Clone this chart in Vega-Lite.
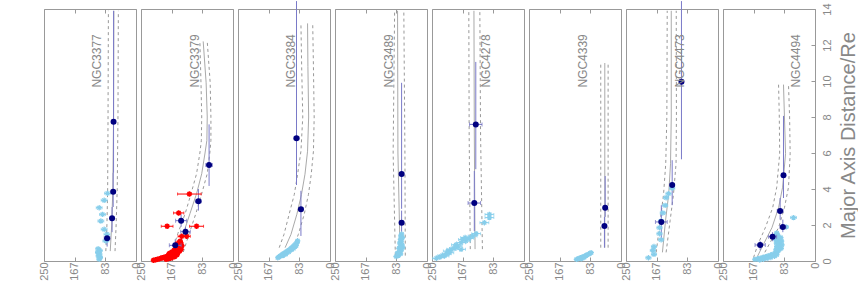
{
"$schema":"https://vega.github.io/schema/vega-lite/v6.json",
"padding":{"left":38,"top":0,"right":0,"bottom":0},
"data":{"values":[
{"g":"NGC3377","t":"m","r":0.55,"v":70,"lo":57,"hi":82},{"g":"NGC3377","t":"m","r":2,"v":66,"lo":54,"hi":79},{"g":"NGC3377","t":"m","r":4,"v":63,"lo":51,"hi":77},{"g":"NGC3377","t":"m","r":8,"v":61,"lo":49,"hi":76},{"g":"NGC3377","t":"m","r":13.9,"v":60,"lo":48,"hi":75},
{"g":"NGC3379","t":"m","r":0.5,"v":152,"lo":135,"hi":166},{"g":"NGC3379","t":"m","r":1.52,"v":135,"lo":119,"hi":150},{"g":"NGC3379","t":"m","r":2.63,"v":117,"lo":101,"hi":130},{"g":"NGC3379","t":"m","r":3.74,"v":99,"lo":85,"hi":114},{"g":"NGC3379","t":"m","r":4.85,"v":85,"lo":70,"hi":99},{"g":"NGC3379","t":"m","r":6.0,"v":76,"lo":63,"hi":90},{"g":"NGC3379","t":"m","r":6.7,"v":71,"lo":60,"hi":86},{"g":"NGC3379","t":"m","r":8.0,"v":70,"lo":60,"hi":85},{"g":"NGC3379","t":"m","r":9.9,"v":73,"lo":62,"hi":87},{"g":"NGC3379","t":"m","r":12.2,"v":81,"lo":70,"hi":90},
{"g":"NGC3384","t":"m","r":0.74,"v":122,"lo":100,"hi":138},{"g":"NGC3384","t":"m","r":1.48,"v":106,"lo":86,"hi":125},{"g":"NGC3384","t":"m","r":2.6,"v":90,"lo":70,"hi":111},{"g":"NGC3384","t":"m","r":3.7,"v":77.5,"lo":58.5,"hi":97},{"g":"NGC3384","t":"m","r":4.82,"v":68,"lo":51,"hi":88},{"g":"NGC3384","t":"m","r":6.1,"v":61,"lo":45,"hi":79},{"g":"NGC3384","t":"m","r":8.0,"v":58,"lo":43,"hi":74},{"g":"NGC3384","t":"m","r":10.8,"v":60,"lo":45,"hi":77},{"g":"NGC3384","t":"m","r":13.2,"v":61,"lo":47,"hi":79},
{"g":"NGC3489","t":"m","r":0.3,"v":73,"lo":59,"hi":86},{"g":"NGC3489","t":"m","r":6,"v":79,"lo":60,"hi":92},{"g":"NGC3489","t":"m","r":13.9,"v":80,"lo":63,"hi":88},
{"g":"NGC4278","t":"m","r":0.66,"v":133,"lo":113,"hi":146},{"g":"NGC4278","t":"m","r":7,"v":135,"lo":118,"hi":149},{"g":"NGC4278","t":"m","r":13.9,"v":136,"lo":120,"hi":150},
{"g":"NGC4339","t":"m","r":0.74,"v":44,"lo":35,"hi":55},{"g":"NGC4339","t":"m","r":11,"v":44,"lo":35,"hi":55},
{"g":"NGC4473","t":"m","r":0.48,"v":151,"lo":141,"hi":168},{"g":"NGC4473","t":"m","r":2.26,"v":142.5,"lo":130,"hi":157},{"g":"NGC4473","t":"m","r":3.7,"v":134,"lo":121,"hi":148},{"g":"NGC4473","t":"m","r":5.4,"v":129,"lo":114,"hi":142},{"g":"NGC4473","t":"m","r":8,"v":127,"lo":113,"hi":139},{"g":"NGC4473","t":"m","r":13.9,"v":127,"lo":113.5,"hi":138},
{"g":"NGC4494","t":"m","r":0.19,"v":158,"lo":144,"hi":167},{"g":"NGC4494","t":"m","r":0.93,"v":140,"lo":124.5,"hi":155},{"g":"NGC4494","t":"m","r":1.85,"v":117,"lo":99,"hi":135},{"g":"NGC4494","t":"m","r":2.96,"v":99,"lo":83,"hi":115},{"g":"NGC4494","t":"m","r":4.1,"v":88,"lo":72,"hi":104},{"g":"NGC4494","t":"m","r":5.96,"v":80,"lo":67.5,"hi":96},{"g":"NGC4494","t":"m","r":8.0,"v":83,"lo":69,"hi":97},{"g":"NGC4494","t":"m","r":9.8,"v":85.6,"lo":72,"hi":99},

{"g":"NGC3377","t":"n","v":61,"e":5,"r":7.74,"rlo":4.9,"rhi":13.9},{"g":"NGC3377","t":"n","v":62,"e":5,"r":3.85,"rlo":3.0,"rhi":4.9},{"g":"NGC3377","t":"n","v":65,"e":5,"r":2.37,"rlo":1.6,"rhi":3.0},{"g":"NGC3377","t":"n","v":78.5,"e":8,"r":1.26,"rlo":0.8,"rhi":1.6},
{"g":"NGC3379","t":"n","v":65,"e":9,"r":5.33,"rlo":4.17,"rhi":7.59},{"g":"NGC3379","t":"n","v":94,"e":8,"r":3.32,"rlo":2.8,"rhi":4.0},{"g":"NGC3379","t":"n","v":141,"e":15,"r":2.24,"rlo":1.9,"rhi":2.6},{"g":"NGC3379","t":"n","v":129,"e":13,"r":1.63,"rlo":1.3,"rhi":1.9},{"g":"NGC3379","t":"n","v":157,"e":16,"r":0.87,"rlo":0.6,"rhi":1.2},
{"g":"NGC3384","t":"n","v":91,"e":7,"r":6.82,"rlo":4.22,"rhi":14.44},{"g":"NGC3384","t":"n","v":79,"e":6,"r":2.87,"rlo":1.39,"rhi":3.9},
{"g":"NGC3489","t":"n","v":69,"e":6,"r":4.83,"rlo":2.9,"rhi":9.9},{"g":"NGC3489","t":"n","v":69,"e":6,"r":2.13,"rlo":1.5,"rhi":2.8},
{"g":"NGC4278","t":"n","v":131,"e":17,"r":7.59,"rlo":5.1,"rhi":11.06},{"g":"NGC4278","t":"n","v":135,"e":17,"r":3.22,"rlo":1.67,"rhi":5.0},
{"g":"NGC4339","t":"n","v":43,"e":4,"r":2.96,"rlo":2.45,"rhi":4.72},{"g":"NGC4339","t":"n","v":45,"e":4,"r":1.95,"rlo":0.74,"rhi":2.45},
{"g":"NGC4473","t":"n","v":99.3,"e":5,"r":9.96,"rlo":5.65,"rhi":14.44},{"g":"NGC4473","t":"n","v":124.5,"e":5,"r":4.22,"rlo":3.1,"rhi":5.6},{"g":"NGC4473","t":"n","v":154,"e":16,"r":2.17,"rlo":1.2,"rhi":3.1},
{"g":"NGC4494","t":"n","v":85.6,"e":5,"r":4.76,"rlo":3.5,"rhi":8.06},{"g":"NGC4494","t":"n","v":94.7,"e":8,"r":2.78,"rlo":2.3,"rhi":3.5},{"g":"NGC4494","t":"n","v":87.4,"e":8,"r":1.89,"rlo":1.6,"rhi":2.3},{"g":"NGC4494","t":"n","v":115.3,"e":11,"r":1.35,"rlo":1.1,"rhi":1.6},{"g":"NGC4494","t":"n","v":149,"e":14,"r":0.89,"rlo":0.6,"rhi":1.1},

{"g":"NGC3377","t":"l","v":107,"r":12.6},{"g":"NGC3379","t":"l","v":102,"r":12.6},{"g":"NGC3384","t":"l","v":106,"r":12.6},{"g":"NGC3489","t":"l","v":102,"r":12.6},{"g":"NGC4278","t":"l","v":104,"r":12.6},{"g":"NGC4339","t":"l","v":104,"r":12.6},{"g":"NGC4473","t":"l","v":104,"r":12.6},{"g":"NGC4494","t":"l","v":52,"r":12.6},

{"g":"NGC3377","t":"b","v":100,"e":6,"r":0.1},{"g":"NGC3377","t":"b","v":97,"e":6,"r":0.2},{"g":"NGC3377","t":"b","v":102,"e":6,"r":0.28},{"g":"NGC3377","t":"b","v":99,"e":6,"r":0.38},{"g":"NGC3377","t":"b","v":104,"e":6,"r":0.48},{"g":"NGC3377","t":"b","v":98,"e":6,"r":0.58},{"g":"NGC3377","t":"b","v":103,"e":6,"r":0.68},{"g":"NGC3377","t":"b","v":82,"e":8,"r":1.11},{"g":"NGC3377","t":"b","v":79,"e":8,"r":1.48},{"g":"NGC3377","t":"b","v":86.5,"e":8,"r":1.76},{"g":"NGC3377","t":"b","v":95.5,"e":8,"r":2.22},{"g":"NGC3377","t":"b","v":91,"e":8,"r":2.59},{"g":"NGC3377","t":"b","v":100,"e":8,"r":2.96},{"g":"NGC3377","t":"b","v":86.5,"e":8,"r":3.37},{"g":"NGC3377","t":"b","v":77.4,"e":8,"r":3.76},
{"g":"NGC3384","t":"b","v":142,"e":4,"r":0.18},{"g":"NGC3384","t":"b","v":139,"e":4,"r":0.22},{"g":"NGC3384","t":"b","v":136,"e":4,"r":0.27},{"g":"NGC3384","t":"b","v":133,"e":4,"r":0.3},{"g":"NGC3384","t":"b","v":130,"e":4,"r":0.35},{"g":"NGC3384","t":"b","v":127,"e":4,"r":0.4},{"g":"NGC3384","t":"b","v":124,"e":4,"r":0.43},{"g":"NGC3384","t":"b","v":121,"e":4,"r":0.47},{"g":"NGC3384","t":"b","v":118,"e":4,"r":0.52},{"g":"NGC3384","t":"b","v":115,"e":4,"r":0.56},{"g":"NGC3384","t":"b","v":112,"e":4,"r":0.6},{"g":"NGC3384","t":"b","v":109,"e":4,"r":0.64},{"g":"NGC3384","t":"b","v":106,"e":4,"r":0.7},{"g":"NGC3384","t":"b","v":103,"e":4,"r":0.75},{"g":"NGC3384","t":"b","v":100,"e":4,"r":0.8},{"g":"NGC3384","t":"b","v":97,"e":4,"r":0.86},{"g":"NGC3384","t":"b","v":94,"e":4,"r":0.92},{"g":"NGC3384","t":"b","v":91,"e":4,"r":0.98},{"g":"NGC3384","t":"b","v":89,"e":4,"r":1.05},{"g":"NGC3384","t":"b","v":88,"e":4,"r":1.12},{"g":"NGC3384","t":"b","v":128,"e":4,"r":0.3},{"g":"NGC3384","t":"b","v":120,"e":4,"r":0.38},{"g":"NGC3384","t":"b","v":112,"e":4,"r":0.5},{"g":"NGC3384","t":"b","v":105,"e":4,"r":0.62},{"g":"NGC3384","t":"b","v":99,"e":4,"r":0.7},{"g":"NGC3384","t":"b","v":95,"e":4,"r":0.8},{"g":"NGC3384","t":"b","v":92,"e":4,"r":0.85},
{"g":"NGC3489","t":"b","v":84,"e":5,"r":0.25},{"g":"NGC3489","t":"b","v":78,"e":5,"r":0.3},{"g":"NGC3489","t":"b","v":72,"e":5,"r":0.4},{"g":"NGC3489","t":"b","v":75,"e":5,"r":0.5},{"g":"NGC3489","t":"b","v":70,"e":5,"r":0.6},{"g":"NGC3489","t":"b","v":76,"e":5,"r":0.7},{"g":"NGC3489","t":"b","v":73,"e":5,"r":0.8},{"g":"NGC3489","t":"b","v":68,"e":5,"r":0.9},{"g":"NGC3489","t":"b","v":74,"e":5,"r":1.0},{"g":"NGC3489","t":"b","v":70,"e":5,"r":1.1},{"g":"NGC3489","t":"b","v":72,"e":5,"r":1.2},{"g":"NGC3489","t":"b","v":67,"e":5,"r":1.3},{"g":"NGC3489","t":"b","v":71,"e":5,"r":1.4},{"g":"NGC3489","t":"b","v":69,"e":5,"r":1.5},{"g":"NGC3489","t":"b","v":80,"e":5,"r":0.45},{"g":"NGC3489","t":"b","v":66,"e":5,"r":0.75},
{"g":"NGC4278","t":"b","v":238,"e":10,"r":0.15},{"g":"NGC4278","t":"b","v":229,"e":10,"r":0.22},{"g":"NGC4278","t":"b","v":216,"e":12,"r":0.28},{"g":"NGC4278","t":"b","v":207,"e":12,"r":0.55},{"g":"NGC4278","t":"b","v":198,"e":12,"r":0.65},{"g":"NGC4278","t":"b","v":203,"e":12,"r":0.46},{"g":"NGC4278","t":"b","v":180,"e":12,"r":0.83},{"g":"NGC4278","t":"b","v":171,"e":12,"r":1.02},{"g":"NGC4278","t":"b","v":171,"e":12,"r":0.65},{"g":"NGC4278","t":"b","v":166,"e":12,"r":1.2},{"g":"NGC4278","t":"b","v":157.6,"e":12,"r":1.11},{"g":"NGC4278","t":"b","v":148.5,"e":12,"r":1.26},{"g":"NGC4278","t":"b","v":139.5,"e":12,"r":1.39},{"g":"NGC4278","t":"b","v":130,"e":12,"r":1.52},{"g":"NGC4278","t":"b","v":107.7,"e":12,"r":2.13},{"g":"NGC4278","t":"b","v":94,"e":12,"r":2.41},{"g":"NGC4278","t":"b","v":94,"e":12,"r":2.59},{"g":"NGC4278","t":"b","v":190,"e":12,"r":0.7},{"g":"NGC4278","t":"b","v":185,"e":12,"r":0.9},{"g":"NGC4278","t":"b","v":210,"e":12,"r":0.4},{"g":"NGC4278","t":"b","v":222,"e":12,"r":0.3},{"g":"NGC4278","t":"b","v":160,"e":12,"r":1.3},
{"g":"NGC4339","t":"b","v":121,"e":4,"r":0.09},{"g":"NGC4339","t":"b","v":117,"e":4,"r":0.12},{"g":"NGC4339","t":"b","v":113,"e":4,"r":0.15},{"g":"NGC4339","t":"b","v":110,"e":4,"r":0.18},{"g":"NGC4339","t":"b","v":106,"e":4,"r":0.2},{"g":"NGC4339","t":"b","v":103,"e":4,"r":0.23},{"g":"NGC4339","t":"b","v":99,"e":4,"r":0.27},{"g":"NGC4339","t":"b","v":95,"e":4,"r":0.3},{"g":"NGC4339","t":"b","v":92,"e":4,"r":0.34},{"g":"NGC4339","t":"b","v":88,"e":4,"r":0.38},{"g":"NGC4339","t":"b","v":84,"e":4,"r":0.43},{"g":"NGC4339","t":"b","v":81,"e":4,"r":0.46},{"g":"NGC4339","t":"b","v":108,"e":4,"r":0.12},{"g":"NGC4339","t":"b","v":100,"e":4,"r":0.2},
{"g":"NGC4473","t":"b","v":124.5,"e":7,"r":4.04},{"g":"NGC4473","t":"b","v":134.5,"e":7,"r":3.74},{"g":"NGC4473","t":"b","v":141,"e":7,"r":3.52},{"g":"NGC4473","t":"b","v":143.6,"e":7,"r":3.09},{"g":"NGC4473","t":"b","v":150,"e":7,"r":2.67},{"g":"NGC4473","t":"b","v":154.5,"e":7,"r":2.22},{"g":"NGC4473","t":"b","v":159,"e":7,"r":1.85},{"g":"NGC4473","t":"b","v":159,"e":7,"r":1.52},{"g":"NGC4473","t":"b","v":154.5,"e":7,"r":1.18},{"g":"NGC4473","t":"b","v":174,"e":7,"r":0.8},{"g":"NGC4473","t":"b","v":177,"e":7,"r":0.59},{"g":"NGC4473","t":"b","v":174,"e":7,"r":0.37},{"g":"NGC4473","t":"b","v":189,"e":7,"r":0.18},
{"g":"NGC4494","t":"b","v":163,"e":5,"r":0.09},{"g":"NGC4494","t":"b","v":156,"e":5,"r":0.12},{"g":"NGC4494","t":"b","v":149,"e":5,"r":0.16},{"g":"NGC4494","t":"b","v":142,"e":5,"r":0.2},{"g":"NGC4494","t":"b","v":135,"e":5,"r":0.24},{"g":"NGC4494","t":"b","v":128,"e":5,"r":0.28},{"g":"NGC4494","t":"b","v":121,"e":5,"r":0.33},{"g":"NGC4494","t":"b","v":114,"e":5,"r":0.38},{"g":"NGC4494","t":"b","v":108,"e":5,"r":0.43},{"g":"NGC4494","t":"b","v":103,"e":5,"r":0.5},{"g":"NGC4494","t":"b","v":100,"e":5,"r":0.57},{"g":"NGC4494","t":"b","v":98,"e":5,"r":0.65},{"g":"NGC4494","t":"b","v":97,"e":5,"r":0.75},{"g":"NGC4494","t":"b","v":96,"e":5,"r":0.85},{"g":"NGC4494","t":"b","v":97,"e":5,"r":0.95},{"g":"NGC4494","t":"b","v":98,"e":5,"r":1.05},{"g":"NGC4494","t":"b","v":99,"e":5,"r":1.15},{"g":"NGC4494","t":"b","v":100,"e":5,"r":1.25},{"g":"NGC4494","t":"b","v":101,"e":5,"r":1.35},{"g":"NGC4494","t":"b","v":102,"e":5,"r":1.45},{"g":"NGC4494","t":"b","v":104,"e":5,"r":1.55},{"g":"NGC4494","t":"b","v":150,"e":5,"r":0.06},{"g":"NGC4494","t":"b","v":140,"e":5,"r":0.1},{"g":"NGC4494","t":"b","v":130,"e":5,"r":0.14},{"g":"NGC4494","t":"b","v":120,"e":5,"r":0.2},{"g":"NGC4494","t":"b","v":110,"e":5,"r":0.27},{"g":"NGC4494","t":"b","v":104,"e":5,"r":0.35},{"g":"NGC4494","t":"b","v":106,"e":5,"r":0.62},{"g":"NGC4494","t":"b","v":104,"e":5,"r":0.8},{"g":"NGC4494","t":"b","v":105,"e":5,"r":1.0},{"g":"NGC4494","t":"b","v":107,"e":5,"r":1.2},{"g":"NGC4494","t":"b","v":110,"e":5,"r":1.4},{"g":"NGC4494","t":"b","v":92,"e":5,"r":0.7},{"g":"NGC4494","t":"b","v":90,"e":5,"r":0.9},{"g":"NGC4494","t":"b","v":91,"e":5,"r":1.1},{"g":"NGC4494","t":"b","v":93,"e":5,"r":1.3},{"g":"NGC4494","t":"b","v":78.5,"e":6,"r":1.89},{"g":"NGC4494","t":"b","v":58.4,"e":8,"r":2.41},

{"g":"NGC3379","t":"x","v":216,"e":4,"r":0.04},{"g":"NGC3379","t":"x","v":210,"e":4,"r":0.07},{"g":"NGC3379","t":"x","v":205,"e":4,"r":0.1},{"g":"NGC3379","t":"x","v":200,"e":4,"r":0.12},{"g":"NGC3379","t":"x","v":196,"e":4,"r":0.15},{"g":"NGC3379","t":"x","v":192,"e":4,"r":0.18},{"g":"NGC3379","t":"x","v":188,"e":4,"r":0.2},{"g":"NGC3379","t":"x","v":184,"e":4,"r":0.22},{"g":"NGC3379","t":"x","v":180,"e":4,"r":0.25},{"g":"NGC3379","t":"x","v":176,"e":4,"r":0.28},{"g":"NGC3379","t":"x","v":172,"e":4,"r":0.3},{"g":"NGC3379","t":"x","v":168,"e":4,"r":0.33},{"g":"NGC3379","t":"x","v":165,"e":4,"r":0.37},{"g":"NGC3379","t":"x","v":162,"e":4,"r":0.4},{"g":"NGC3379","t":"x","v":159,"e":4,"r":0.45},{"g":"NGC3379","t":"x","v":156,"e":4,"r":0.5},{"g":"NGC3379","t":"x","v":154,"e":4,"r":0.55},{"g":"NGC3379","t":"x","v":152,"e":4,"r":0.6},{"g":"NGC3379","t":"x","v":150,"e":4,"r":0.66},{"g":"NGC3379","t":"x","v":148,"e":4,"r":0.72},{"g":"NGC3379","t":"x","v":146,"e":4,"r":0.8},{"g":"NGC3379","t":"x","v":149,"e":4,"r":0.88},{"g":"NGC3379","t":"x","v":147,"e":4,"r":0.95},{"g":"NGC3379","t":"x","v":152,"e":4,"r":0.35},{"g":"NGC3379","t":"x","v":158,"e":4,"r":0.25},{"g":"NGC3379","t":"x","v":164,"e":4,"r":0.2},{"g":"NGC3379","t":"x","v":170,"e":4,"r":0.15},{"g":"NGC3379","t":"x","v":176,"e":4,"r":0.12},{"g":"NGC3379","t":"x","v":182,"e":4,"r":0.1},{"g":"NGC3379","t":"x","v":160,"e":4,"r":0.3},{"g":"NGC3379","t":"x","v":150,"e":4,"r":0.45},{"g":"NGC3379","t":"x","v":145,"e":4,"r":0.55},{"g":"NGC3379","t":"x","v":141,"e":4,"r":0.65},{"g":"NGC3379","t":"x","v":143,"e":4,"r":0.75},{"g":"NGC3379","t":"x","v":155,"e":4,"r":0.7},{"g":"NGC3379","t":"x","v":160,"e":4,"r":0.6},{"g":"NGC3379","t":"x","v":166,"e":4,"r":0.5},{"g":"NGC3379","t":"x","v":170,"e":4,"r":0.45},{"g":"NGC3379","t":"x","v":174,"e":4,"r":0.4},{"g":"NGC3379","t":"x","v":139,"e":5,"r":0.85},{"g":"NGC3379","t":"x","v":142,"e":5,"r":1.02},{"g":"NGC3379","t":"x","v":143.6,"e":5,"r":1.1},
{"g":"NGC3379","t":"x","v":118.6,"e":32,"r":3.72},{"g":"NGC3379","t":"x","v":147.6,"e":14,"r":2.67},{"g":"NGC3379","t":"x","v":179,"e":16,"r":1.93},{"g":"NGC3379","t":"x","v":99,"e":19,"r":1.93},{"g":"NGC3379","t":"x","v":139.4,"e":10,"r":1.37},{"g":"NGC3379","t":"x","v":126,"e":10,"r":1.37},{"g":"NGC3379","t":"x","v":148,"e":8,"r":1.02}
]},
"facet":{"column":{"field":"g","type":"nominal","sort":["NGC3377","NGC3379","NGC3384","NGC3489","NGC4278","NGC4339","NGC4473","NGC4494"],"header":{"title":null,"labels":false}}},
"spacing":5,
"bounds":"flush",
"spec":{
"width":92,"height":252,
"resolve":{"axis":{"x":"independent"}},
"encoding":{"y":{"field":"r","type":"quantitative","scale":{"domain":[0,14],"nice":false,"zero":false},
   "axis":{"orient":"right","values":[0,2,4,6,8,10,12,14],"labelAngle":270,"labelAlign":"center","labelBaseline":"top","labelFontSize":11,"labelPadding":10,"tickSize":-4,"labelFlush":false,"labelOverlap":false,"labelSeparation":0,"title":"Major Axis Distance/Re","titleFontSize":20,"titleAngle":270,"titleBaseline":"top","titlePadding":6}}},
"layer":[
{"transform":[{"filter":"datum.t=='m'"}],"mark":{"type":"line","color":"#999999","strokeDash":[3,3],"strokeWidth":1},
 "encoding":{"x":{"field":"hi","type":"quantitative","scale":{"domain":[0,250],"reverse":true,"nice":false,"zero":false},
   "axis":{"orient":"bottom","values":[0,83,167,250],"labelAngle":270,"labelFlush":false,"labelOverlap":false,"labelFontSize":11,"labelPadding":5,"tickSize":-4,"title":null}},
  "order":{"field":"r","type":"quantitative"}}},
{"transform":[{"filter":"datum.t=='m'"}],"mark":{"type":"line","color":"#999999","strokeDash":[3,3],"strokeWidth":1},
 "encoding":{"x":{"field":"lo","type":"quantitative","axis":{"orient":"top","values":[0,83,167,250],"labels":false,"tickSize":-4,"title":null}},
  "order":{"field":"r","type":"quantitative"}}},
{"transform":[{"filter":"datum.t=='m'"}],"mark":{"type":"line","color":"#aaaaaa","strokeWidth":1},
 "encoding":{"x":{"field":"v","type":"quantitative","axis":null},"order":{"field":"r","type":"quantitative"}}},
{"transform":[{"filter":"datum.t=='n'"}],"mark":{"type":"rule","color":"#7a7ac8","strokeWidth":1},
 "encoding":{"x":{"field":"v","type":"quantitative","axis":null},"y":{"field":"rlo","type":"quantitative"},"y2":{"field":"rhi"}}},
{"transform":[{"filter":"datum.t=='b'"}],"mark":{"type":"errorbar","color":"#87CEEB","ticks":{"size":3}},
 "encoding":{"x":{"field":"v","type":"quantitative","axis":null},"xError":{"field":"e"}}},
{"transform":[{"filter":"datum.t=='b'"}],"mark":{"type":"point","shape":"M-1,0H1M0,-1V1M-0.7,-0.7L0.7,0.7M-0.7,0.7L0.7,-0.7","filled":false,"color":"#87CEEB","size":30,"strokeWidth":1.2,"opacity":1},
 "encoding":{"x":{"field":"v","type":"quantitative","axis":null}}},
{"transform":[{"filter":"datum.t=='x'"}],"mark":{"type":"errorbar","color":"#ff0000","ticks":{"size":3}},
 "encoding":{"x":{"field":"v","type":"quantitative","axis":null},"xError":{"field":"e"}}},
{"transform":[{"filter":"datum.t=='x'"}],"mark":{"type":"point","shape":"M-1,0H1M0,-1V1M-0.7,-0.7L0.7,0.7M-0.7,0.7L0.7,-0.7","filled":false,"color":"#ff0000","size":30,"strokeWidth":1.5,"opacity":1},
 "encoding":{"x":{"field":"v","type":"quantitative","axis":null}}},
{"transform":[{"filter":"datum.t=='n'"}],"mark":{"type":"errorbar","color":"#6f6fc0","ticks":{"size":4}},
 "encoding":{"x":{"field":"v","type":"quantitative","axis":null},"xError":{"field":"e"}}},
{"transform":[{"filter":"datum.t=='n'"}],"mark":{"type":"circle","color":"#000080","size":36,"opacity":1},
 "encoding":{"x":{"field":"v","type":"quantitative","axis":null}}},
{"transform":[{"filter":"datum.t=='l'"}],"mark":{"type":"text","angle":270,"align":"right","baseline":"middle","fontSize":12,"color":"#888888"},
 "encoding":{"x":{"field":"v","type":"quantitative","axis":null},"text":{"field":"g"}}}
]},
"config":{"view":{"stroke":"#999999","strokeWidth":1},"font":"Liberation Sans","axis":{"grid":false,"domain":false,"labelOverlap":false,"tickColor":"#999999","labelColor":"#888888","titleColor":"#888888","titleFontWeight":"normal"},"axisY":{"labelOverlap":false}}
}
